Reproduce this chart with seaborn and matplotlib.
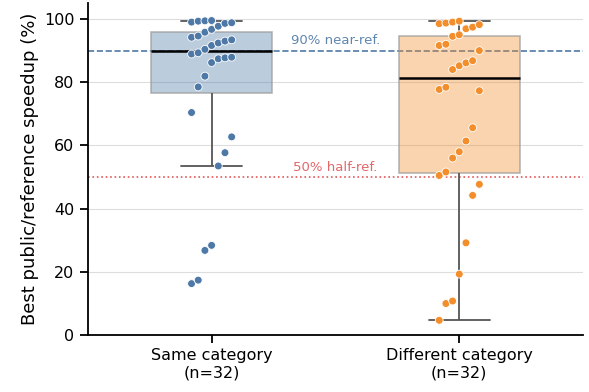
import numpy as np
import pandas as pd
import seaborn as sns
import matplotlib.pyplot as plt

# values (% of reference speedup)
same_category = [16.3, 17.4, 26.8, 28.4, 53.5, 57.7, 62.7, 70.4, 78.5, 81.9,
                 86.2, 87.4, 87.7, 87.9, 88.9, 89.3, 90.4, 91.6, 92.4, 93.0,
                 93.4, 94.2, 94.6, 95.8, 96.7, 97.7, 98.6, 98.8, 99.0, 99.3,
                 99.4, 99.5]
diff_category = [4.7, 10.0, 10.8, 19.3, 29.2, 44.2, 47.7, 50.5, 51.6, 56.0,
                 58.0, 61.4, 65.6, 77.3, 77.7, 78.4, 84.0, 85.2, 86.1, 86.8,
                 90.0, 91.6, 92.0, 94.5, 95.0, 96.9, 97.4, 98.2, 98.5, 98.7,
                 99.0, 99.3]
groups = ["Same category\n(n=32)", "Different category\n(n=32)"]
palette = ["#4e79a7", "#f28e2b"]

data = pd.DataFrame({
    "group": [groups[0]] * len(same_category) + [groups[1]] * len(diff_category),
    "value": same_category + diff_category,
})

# deterministic spread: sorted rank cycles through 7 horizontal slots
frames = []
for i, g in enumerate(groups):
    d = data[data["group"] == g].sort_values("value").reset_index(drop=True)
    d["xpos"] = i + (np.arange(len(d)) % 7 - 3) * 0.027
    frames.append(d)
pts = pd.concat(frames)

sns.set_style("ticks")
plt.rcParams["font.family"] = ["DejaVu Sans"]

fig, ax = plt.subplots(figsize=(5.89, 3.92), dpi=100)
fig.subplots_adjust(left=0.149, right=0.99, top=0.992, bottom=0.145)

ax.yaxis.grid(True, color="#dddddd", linewidth=0.8)
ax.set_axisbelow(True)

sns.boxplot(x="group", y="value", data=data, hue="group", palette=palette,
            order=groups, width=0.49, showfliers=False, legend=False,
            saturation=1,
            whiskerprops=dict(color="#555555", linewidth=1.3),
            capprops=dict(color="#555555", linewidth=1.3),
            medianprops=dict(color="black", linewidth=1.8),
            ax=ax)
for patch in ax.patches:
    fc = patch.get_facecolor()
    patch.set_facecolor((fc[0], fc[1], fc[2], 0.38))
    patch.set_edgecolor((0.6, 0.6, 0.6, 0.7))
    patch.set_linewidth(1.2)

sns.scatterplot(x="xpos", y="value", data=pts, hue="group", palette=palette,
                s=32, edgecolor="white", linewidth=0.6, legend=False,
                zorder=3, ax=ax)

ax.axhline(90, color="#4e79a7", linestyle="--", linewidth=1.2, zorder=1)
ax.axhline(50, color="#e15759", linestyle=":", linewidth=1.2, zorder=1)
ax.text(0.5, 91, "90% near-ref.", color="#4e79a7", alpha=0.9,
        ha="center", va="bottom", fontsize=9.5)
ax.text(0.5, 51, "50% half-ref.", color="#e15759", alpha=0.9,
        ha="center", va="bottom", fontsize=9.5)

ax.set_xlim(-0.5, 1.5)
ax.set_ylim(0, 105)
ax.set_xticks([0, 1])
ax.set_xticklabels(groups)
ax.set_yticks([0, 20, 40, 60, 80, 100])
ax.set_xlabel("")
ax.set_ylabel("Best public/reference speedup (%)", fontsize=13, color="black")
ax.tick_params(axis="both", labelsize=11.5, colors="black", length=6, width=1.3)
sns.despine(ax=ax)
for side in ["left", "bottom"]:
    ax.spines[side].set_color("black")
    ax.spines[side].set_linewidth(1.3)

plt.savefig("out.png", dpi=100)
plt.close()
